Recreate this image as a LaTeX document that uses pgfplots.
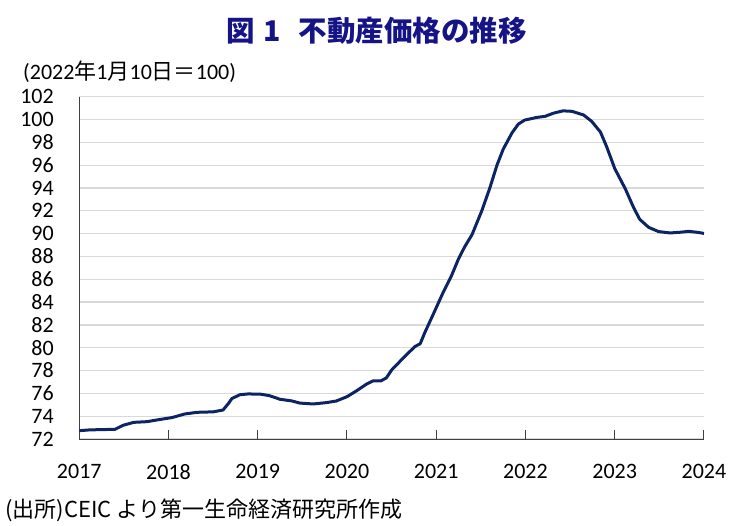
\documentclass[border=0pt]{standalone}
\usepackage{fontspec}
\setmainfont{Carlito}
\newfontfamily\cjk{Noto Sans CJK JP}
\usepackage{pgfplots}
\pgfplotsset{compat=1.18}
\definecolor{navyline}{RGB}{12,36,98}
\definecolor{titleblue}{RGB}{20,20,135}
\definecolor{gridgray}{RGB}{217,217,217}
\begin{document}
\begin{tikzpicture}[x=1pt,y=1pt]
\path[use as bounding box] (0,0) rectangle (739,-525);
\begin{axis}[
  at={(79.3pt,-439pt)}, anchor=south west,
  scale only axis, width=624.7pt, height=342.3pt,
  xmin=2017, xmax=2024, ymin=72, ymax=102,
  xtick={2017,...,2024}, ytick={72,74,...,102},
  axis x line=bottom, axis y line=left,
  axis line style={-, draw=black!75, line width=1pt},
  ymajorgrids, grid style={gridgray, line width=1.2pt},
  tick align=inside, major tick length=9pt,
  xtick style={draw=black!75, line width=1pt},
  ytick style={draw=none},
  /pgf/number format/1000 sep={},
  /pgf/number format/assume math mode=true,
  tick label style={font=\fontsize{22}{26}\selectfont},
  xticklabel style={yshift=-22pt},
  yticklabel style={xshift=-22pt},
]
\addplot[navyline, line width=3pt, line join=round] coordinates {
(2017.00,72.73) (2017.12,72.80) (2017.40,72.85) (2017.49,73.20) (2017.61,73.46)
(2017.76,73.52) (2017.87,73.67) (2018.04,73.88) (2018.18,74.19) (2018.32,74.34)
(2018.50,74.38) (2018.61,74.54) (2018.67,75.10) (2018.71,75.55) (2018.80,75.88)
(2018.89,75.95) (2019.03,75.93) (2019.13,75.80) (2019.25,75.48) (2019.38,75.34)
(2019.47,75.15) (2019.62,75.07) (2019.77,75.19) (2019.88,75.33) (2020.00,75.71)
(2020.11,76.24) (2020.22,76.82) (2020.29,77.09) (2020.38,77.10) (2020.44,77.35)
(2020.50,78.05) (2020.63,79.10) (2020.76,80.10) (2020.82,80.35) (2020.87,81.30)
(2020.97,83.00) (2021.08,84.90) (2021.17,86.30) (2021.25,87.80) (2021.32,88.87)
(2021.40,89.90) (2021.51,92.00) (2021.60,94.00) (2021.68,96.00) (2021.75,97.40)
(2021.85,98.85) (2021.92,99.60) (2021.99,99.95) (2022.13,100.19) (2022.22,100.28)
(2022.31,100.55) (2022.42,100.76) (2022.52,100.72) (2022.65,100.40) (2022.74,99.85)
(2022.84,98.90) (2022.91,97.60) (2023.00,95.70) (2023.12,93.90) (2023.21,92.30)
(2023.28,91.25) (2023.38,90.55) (2023.49,90.18) (2023.62,90.06) (2023.73,90.12)
(2023.83,90.20) (2023.92,90.12) (2024.00,90.02)
};
\end{axis}
\node[font=\cjk\bfseries\fontsize{28.5}{32}\selectfont, text=titleblue] at (376.5,-31) {図\hspace{9pt}1\hspace{18pt}不動産価格の推移};
\node[anchor=west, inner sep=0pt, font=\fontsize{22}{26}\selectfont] at (23,-72) {(2022{\cjk 年}1{\cjk 月}10{\cjk 日}{\cjk ＝}100)};
\node[anchor=west, inner sep=0pt, font=\cjk\fontsize{22}{26}\selectfont] at (5,-510) {(出所)CEIC より第一生命経済研究所作成};
\end{tikzpicture}
\end{document}
